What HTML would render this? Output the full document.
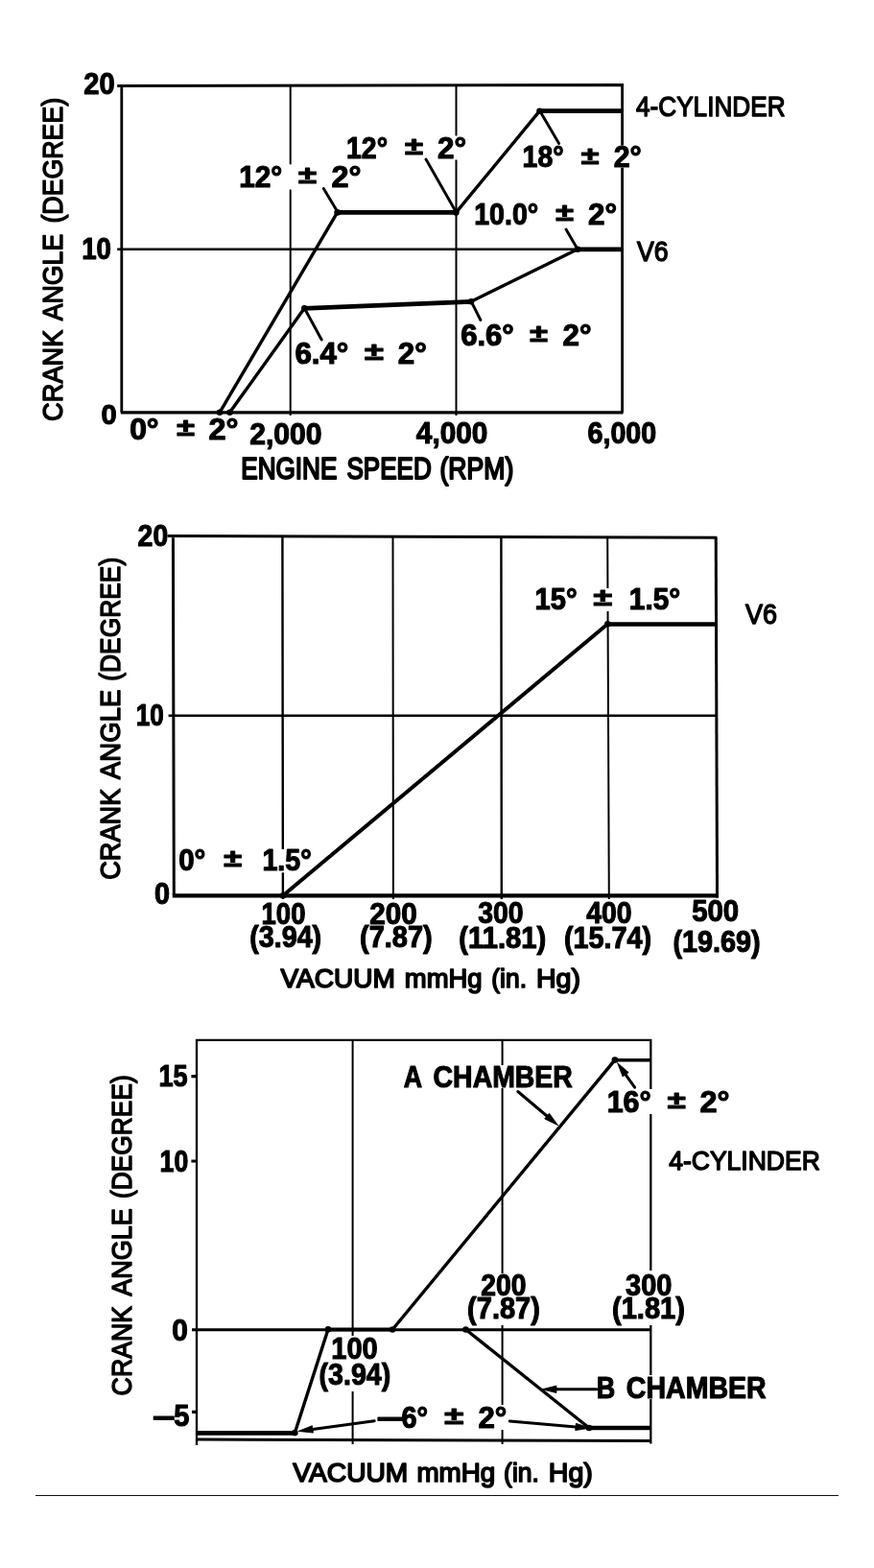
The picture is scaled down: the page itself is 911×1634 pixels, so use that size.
<!DOCTYPE html>
<html lang="en">
<head>
<meta charset="utf-8">
<title>Advance curves</title>
<style>
html,body{margin:0;padding:0;background:#fff;}
body{width:911px;height:1634px;overflow:hidden;}
svg{display:block;}
text{font-family:"Liberation Sans",sans-serif;fill:#000;stroke:#000;stroke-linejoin:round;}
.b{font-weight:bold;font-size:30.5px;stroke-width:1.1px;}
.r{font-weight:normal;font-size:29.5px;stroke-width:1.4px;}
.thin{stroke:#000;stroke-width:2;fill:none;}
.thin3{stroke:#000;stroke-width:2.3;fill:none;}
.axis3{stroke:#000;stroke-width:3;fill:none;}
.box{stroke:#000;stroke-width:2.8;fill:none;stroke-linejoin:miter;}
.crv{stroke:#000;stroke-width:4.7;fill:none;stroke-linejoin:round;stroke-linecap:butt;}
.ld{stroke:#000;stroke-width:2.9;fill:none;stroke-linecap:round;}
.axis1{stroke:#000;stroke-width:3.2;fill:none;}
.axis2{stroke:#000;stroke-width:4.2;fill:none;}
.mid{stroke:#000;stroke-width:2.4;fill:none;}
.box2{stroke:#000;stroke-width:3;fill:none;}
.thin2{stroke:#000;stroke-width:2.4;fill:none;}
.crv2{stroke:#000;stroke-width:4;fill:none;stroke-linecap:butt;}
.crv3{stroke:#000;stroke-width:3.4;fill:none;stroke-linecap:butt;}
.dash{stroke:#000;stroke-width:3.4;fill:none;}
</style>
</head>
<body>
<svg width="911" height="1634" viewBox="0 0 911 1634">
<rect x="0" y="0" width="911" height="1634" fill="#fff"/>
<!-- chart 1 -->
<path class="box" d="M122.2,89.5L648.6,88.5V429.8M126.8,429.8V89.4"/>
<path class="axis1" d="M125.8,429.8H649.5"/>
<path class="thin" d="M302.7,88.6V433M475.5,88.6V433"/>
<path class="mid" d="M122.2,259.7H648.6"/>
<rect x="298.7" y="171.3" width="8" height="26.2" fill="#fff"/>
<rect x="471.5" y="141.5" width="8" height="25" fill="#fff"/>
<rect x="644.6" y="151.5" width="8" height="23.2" fill="#fff"/>
<path class="crv3" d="M229,429.8L351.6,221.4M475.4,221.4L562.5,115.7"/>
<path class="crv" d="M351.6,221.4H475.4M562.5,115.7H648.6"/>
<path class="crv3" d="M239.5,429.8L317.3,321.3M491,314.3L602,259.8"/>
<path class="crv" d="M317.3,321.3L491,314.3M602,259.8H648.6"/>
<circle cx="229" cy="429.8" r="3.3" fill="#000"/>
<circle cx="239.5" cy="429.8" r="3.3" fill="#000"/>
<circle cx="351.6" cy="221.4" r="3.3" fill="#000"/>
<circle cx="475.4" cy="221.4" r="3.3" fill="#000"/>
<circle cx="562.5" cy="115.7" r="3.3" fill="#000"/>
<circle cx="317.3" cy="321.3" r="3.3" fill="#000"/>
<circle cx="491" cy="314.3" r="3.3" fill="#000"/>
<circle cx="602" cy="259.8" r="3.3" fill="#000"/>
<path class="ld" d="M352,221L337.3,196.5M475.4,221L444,166M562.5,115.3L582.6,149.6M602,259.6L590,238.9M317.5,321.5L335.2,354M491.3,314.3L500.9,333.5"/>
<text class="b" x="87.2" y="97.6" style="font-size:30.5px;" textLength="32.4" lengthAdjust="spacingAndGlyphs">20</text>
<text class="b" x="85.2" y="269.6" style="font-size:30.5px;" textLength="30.8" lengthAdjust="spacingAndGlyphs">10</text>
<text class="b" x="105.4" y="441.8" style="font-size:30px;" textLength="16.2" lengthAdjust="spacingAndGlyphs">0</text>
<text class="b" x="249.2" y="194.7" textLength="45.0" lengthAdjust="spacingAndGlyphs">12°</text>
<text class="b" x="311.0" y="191.0" style="font-size:25.0px;" textLength="19.0" lengthAdjust="spacingAndGlyphs">±</text>
<text class="b" x="345.5" y="194.7" textLength="31.0" lengthAdjust="spacingAndGlyphs">2°</text>
<text class="b" x="361.0" y="165.0" textLength="43.0" lengthAdjust="spacingAndGlyphs">12°</text>
<text class="b" x="422.0" y="161.3" style="font-size:25.0px;" textLength="19.0" lengthAdjust="spacingAndGlyphs">±</text>
<text class="b" x="456.0" y="165.0" textLength="30.0" lengthAdjust="spacingAndGlyphs">2°</text>
<text class="b" x="544.6" y="174.2" textLength="43.0" lengthAdjust="spacingAndGlyphs">18°</text>
<text class="b" x="605.8" y="170.5" style="font-size:25.0px;" textLength="18.6" lengthAdjust="spacingAndGlyphs">±</text>
<text class="b" x="639.7" y="174.2" textLength="29.0" lengthAdjust="spacingAndGlyphs">2°</text>
<text class="b" x="494.2" y="233.7" textLength="67.0" lengthAdjust="spacingAndGlyphs">10.0°</text>
<text class="b" x="579.2" y="230.0" style="font-size:25.0px;" textLength="18.6" lengthAdjust="spacingAndGlyphs">±</text>
<text class="b" x="613.0" y="233.7" textLength="30.0" lengthAdjust="spacingAndGlyphs">2°</text>
<text class="b" x="307.4" y="378.5" textLength="56.0" lengthAdjust="spacingAndGlyphs">6.4°</text>
<text class="b" x="380.0" y="374.8" style="font-size:25.0px;" textLength="19.8" lengthAdjust="spacingAndGlyphs">±</text>
<text class="b" x="414.8" y="378.5" textLength="30.0" lengthAdjust="spacingAndGlyphs">2°</text>
<text class="b" x="480.2" y="359.6" textLength="55.6" lengthAdjust="spacingAndGlyphs">6.6°</text>
<text class="b" x="552.2" y="355.9" style="font-size:25.0px;" textLength="18.6" lengthAdjust="spacingAndGlyphs">±</text>
<text class="b" x="586.5" y="359.6" textLength="30.0" lengthAdjust="spacingAndGlyphs">2°</text>
<text class="b" x="135.2" y="457.5" textLength="30.4" lengthAdjust="spacingAndGlyphs">0°</text>
<text class="b" x="184.2" y="453.8" style="font-size:25.0px;" textLength="18.6" lengthAdjust="spacingAndGlyphs">±</text>
<text class="b" x="217.6" y="457.5" textLength="31.0" lengthAdjust="spacingAndGlyphs">2°</text>
<text class="b" x="260.2" y="462.5" textLength="75.4" lengthAdjust="spacingAndGlyphs">2,000</text>
<text class="b" x="433.8" y="462.2" textLength="74.6" lengthAdjust="spacingAndGlyphs">4,000</text>
<text class="b" x="612.6" y="462.2" textLength="71.6" lengthAdjust="spacingAndGlyphs">6,000</text>
<text class="r" x="663.0" y="120.9" textLength="155.6" lengthAdjust="spacingAndGlyphs">4-CYLINDER</text>
<text class="r" x="664.1" y="271.5" textLength="32.6" lengthAdjust="spacingAndGlyphs">V6</text>
<text class="r" x="251.3" y="498.8" style="font-size:30.5px;stroke-width:2.0px;" textLength="100.0" lengthAdjust="spacingAndGlyphs">ENGINE</text>
<text class="r" x="361.4" y="498.8" style="font-size:30.5px;stroke-width:2.0px;" textLength="88.3" lengthAdjust="spacingAndGlyphs">SPEED</text>
<text class="r" x="458.4" y="498.8" style="font-size:30.5px;stroke-width:2.0px;" textLength="76.9" lengthAdjust="spacingAndGlyphs">(RPM)</text>
<text class="r" transform="translate(65.2,438.9) rotate(-90)" textLength="95.2" lengthAdjust="spacingAndGlyphs">CRANK</text>
<text class="r" transform="translate(65.2,334.2) rotate(-90)" textLength="90.4" lengthAdjust="spacingAndGlyphs">ANGLE</text>
<text class="r" transform="translate(65.2,232.6) rotate(-90)" textLength="130.8" lengthAdjust="spacingAndGlyphs">(DEGREE)</text>
<!-- chart 2 -->
<path class="box2" d="M174.8,558.6L747.4,560.2M181.3,933.3L180.4,559"/>
<path class="box2" d="M746.2,560.2L747.5,935.4"/>
<path class="axis2" d="M179.8,933.4H748.7"/>
<path class="thin2" d="M294.4,559.3L294.9,937M522.4,559.3L522.8,937"/>
<path class="thin" d="M409.5,559.3L409.9,937M633.2,559.3L634.8,937"/>
<path class="thin2" d="M175.6,745.8H747.4"/>
<rect x="629.5" y="613" width="9" height="24" fill="#fff"/>
<rect x="290.5" y="885" width="8" height="24.3" fill="#fff"/>
<path class="crv2" d="M295,933.3L633.4,650.2"/>
<path class="crv" d="M633.4,650.5H746.8"/>
<circle cx="295" cy="933.3" r="3.3" fill="#000"/>
<circle cx="633.4" cy="650.2" r="3.3" fill="#000"/>
<text class="b" x="143.6" y="569.3" style="font-size:30.5px;" textLength="31.6" lengthAdjust="spacingAndGlyphs">20</text>
<text class="b" x="141.8" y="755.6" style="font-size:30.5px;" textLength="29.0" lengthAdjust="spacingAndGlyphs">10</text>
<text class="b" x="160.9" y="941.7" textLength="16.0" lengthAdjust="spacingAndGlyphs">0</text>
<text class="b" x="557.6" y="634.6" textLength="44.0" lengthAdjust="spacingAndGlyphs">15°</text>
<text class="b" x="618.6" y="630.9" style="font-size:25.0px;" textLength="19.6" lengthAdjust="spacingAndGlyphs">±</text>
<text class="b" x="655.8" y="634.6" textLength="53.4" lengthAdjust="spacingAndGlyphs">1.5°</text>
<text class="b" x="186.2" y="907.0" textLength="28.2" lengthAdjust="spacingAndGlyphs">0°</text>
<text class="b" x="233.2" y="903.3" style="font-size:25.0px;" textLength="18.8" lengthAdjust="spacingAndGlyphs">±</text>
<text class="b" x="273.4" y="907.0" textLength="51.4" lengthAdjust="spacingAndGlyphs">1.5°</text>
<text class="r" x="777.1" y="649.5" textLength="33.0" lengthAdjust="spacingAndGlyphs">V6</text>
<text class="b" x="272.6" y="962.8" textLength="45.8" lengthAdjust="spacingAndGlyphs">100</text>
<text class="b" x="385.3" y="962.5" textLength="49.5" lengthAdjust="spacingAndGlyphs">200</text>
<text class="b" x="498.3" y="961.8" textLength="47.3" lengthAdjust="spacingAndGlyphs">300</text>
<text class="b" x="611.3" y="961.8" textLength="47.3" lengthAdjust="spacingAndGlyphs">400</text>
<text class="b" x="721.2" y="960.4" textLength="49.0" lengthAdjust="spacingAndGlyphs">500</text>
<text class="b" x="260.2" y="987.3" textLength="75.0" lengthAdjust="spacingAndGlyphs">(3.94)</text>
<text class="b" x="375.0" y="987.3" textLength="75.7" lengthAdjust="spacingAndGlyphs">(7.87)</text>
<text class="b" x="478.3" y="988.3" textLength="91.0" lengthAdjust="spacingAndGlyphs">(11.81)</text>
<text class="b" x="587.9" y="988.3" textLength="91.2" lengthAdjust="spacingAndGlyphs">(15.74)</text>
<text class="b" x="701.4" y="991.6" textLength="91.2" lengthAdjust="spacingAndGlyphs">(19.69)</text>
<text class="r" x="292.5" y="1029.4" style="font-size:28px;stroke-width:1.7px;" textLength="119.4" lengthAdjust="spacingAndGlyphs">VACUUM</text>
<text class="r" x="421.8" y="1029.4" style="font-size:28px;stroke-width:1.7px;" textLength="80.8" lengthAdjust="spacingAndGlyphs">mmHg</text>
<text class="r" x="512.3" y="1029.4" style="font-size:28px;stroke-width:1.7px;" textLength="36.7" lengthAdjust="spacingAndGlyphs">(in.</text>
<text class="r" x="559.0" y="1029.4" style="font-size:28px;stroke-width:1.7px;" textLength="46.0" lengthAdjust="spacingAndGlyphs">Hg)</text>
<text class="r" transform="translate(124.5,916.8) rotate(-90)" textLength="95.2" lengthAdjust="spacingAndGlyphs">CRANK</text>
<text class="r" transform="translate(124.5,812.2) rotate(-90)" textLength="93.7" lengthAdjust="spacingAndGlyphs">ANGLE</text>
<text class="r" transform="translate(124.5,709.7) rotate(-90)" textLength="128.9" lengthAdjust="spacingAndGlyphs">(DEGREE)</text>
<!-- chart 3 -->
<path class="thin3" d="M205,1506V1083.8H678.3V1504.5"/>
<path class="thin" d="M367.6,1083.8V1505M523.6,1083.8V1505"/>
<path class="axis3" d="M200,1385.7H678.3"/>
<path class="axis3" d="M204.7,1500.1L678.3,1501.5"/>
<path class="axis1" d="M199.4,1121.7H205M199.4,1210H205M200,1471.4H205"/>
<rect x="630" y="1135" width="52" height="26" fill="#fff"/>
<rect x="673" y="1433" width="11" height="25" fill="#fff"/>
<rect x="518" y="1110" width="11" height="24" fill="#fff"/>
<rect x="486" y="1327" width="78" height="54" fill="#fff"/>
<rect x="637" y="1324" width="78" height="57" fill="#fff"/>
<rect x="331" y="1392" width="66" height="58" fill="#fff"/>
<rect x="392" y="1464" width="138" height="26" fill="#fff"/>
<path class="crv3" d="M307.4,1493.1L342,1385.2M409.1,1385.5L640.9,1104.6"/>
<path class="crv" d="M204.7,1493.4H307.4"/>
<path class="crv2" d="M342,1385.4H409.1"/>
<path class="crv3" d="M640.9,1104.8H678.3"/>
<circle cx="307.4" cy="1493.1" r="3.3" fill="#000"/>
<circle cx="342" cy="1385.2" r="3.3" fill="#000"/>
<circle cx="409.1" cy="1385.5" r="3.3" fill="#000"/>
<circle cx="640.9" cy="1104.6" r="3.3" fill="#000"/>
<circle cx="485.5" cy="1385.5" r="3.3" fill="#000"/>
<circle cx="614" cy="1488" r="3.3" fill="#000"/>
<path class="crv3" d="M485.5,1385.5L614,1488"/>
<path class="crv" d="M614,1488H678.3"/>
<path class="ld" style="stroke-width:3.0" d="M539.8,1137.5L570.1,1163.0"/>
<path d="M581.6,1172.7L567.7,1165.9L572.5,1160.2Z" fill="#000" stroke="#000" stroke-width="0.8" stroke-linejoin="round"/>
<path class="ld" style="stroke-width:3.0" d="M661.6,1133.2L652.1,1119.8"/>
<path d="M643.5,1107.5L655.2,1117.6L649.1,1121.9Z" fill="#000" stroke="#000" stroke-width="0.8" stroke-linejoin="round"/>
<path class="ld" style="stroke-width:3.0" d="M622.0,1447.8L580.0,1447.8"/>
<path d="M565.0,1447.8L580.0,1444.1L580.0,1451.5Z" fill="#000" stroke="#000" stroke-width="0.8" stroke-linejoin="round"/>
<path class="ld" style="stroke-width:3.0" d="M531.3,1481.0L600.1,1486.9"/>
<path d="M615.0,1488.2L599.7,1490.6L600.4,1483.2Z" fill="#000" stroke="#000" stroke-width="0.8" stroke-linejoin="round"/>
<path class="ld" style="stroke-width:3.0" d="M390.2,1480.8L325.9,1489.4"/>
<path d="M311.0,1491.4L325.4,1485.7L326.4,1493.1Z" fill="#000" stroke="#000" stroke-width="0.8" stroke-linejoin="round"/>
<text class="b" x="165.4" y="1131.6" textLength="30.2" lengthAdjust="spacingAndGlyphs">15</text>
<text class="b" x="166.6" y="1221.0" textLength="29.6" lengthAdjust="spacingAndGlyphs">10</text>
<text class="b" x="179.3" y="1397.2" textLength="16.6" lengthAdjust="spacingAndGlyphs">0</text>
<text class="b" x="159.0" y="1487.6" textLength="24.0" lengthAdjust="spacingAndGlyphs">−</text>
<text class="b" x="181.2" y="1486.3" textLength="16.2" lengthAdjust="spacingAndGlyphs">5</text>
<text class="b" x="420.8" y="1132.5" textLength="19.3" lengthAdjust="spacingAndGlyphs">A</text>
<text class="b" x="451.6" y="1132.5" textLength="145.2" lengthAdjust="spacingAndGlyphs">CHAMBER</text>
<text class="b" x="632.7" y="1159.0" textLength="46.0" lengthAdjust="spacingAndGlyphs">16°</text>
<text class="b" x="695.8" y="1155.3" style="font-size:25.0px;" textLength="19.0" lengthAdjust="spacingAndGlyphs">±</text>
<text class="b" x="729.5" y="1159.0" textLength="31.0" lengthAdjust="spacingAndGlyphs">2°</text>
<text class="r" x="697.2" y="1219.0" style="font-size:27.5px;" textLength="157.6" lengthAdjust="spacingAndGlyphs">4-CYLINDER</text>
<text class="b" x="501.2" y="1350.2" textLength="47.2" lengthAdjust="spacingAndGlyphs">200</text>
<text class="b" x="487.1" y="1374.2" textLength="75.8" lengthAdjust="spacingAndGlyphs">(7.87)</text>
<text class="b" x="652.1" y="1350.2" textLength="48.3" lengthAdjust="spacingAndGlyphs">300</text>
<text class="b" x="638.0" y="1374.2" textLength="76.0" lengthAdjust="spacingAndGlyphs">(1.81)</text>
<text class="b" x="345.3" y="1416.4" textLength="48.4" lengthAdjust="spacingAndGlyphs">100</text>
<text class="b" x="332.6" y="1443.2" textLength="74.6" lengthAdjust="spacingAndGlyphs">(3.94)</text>
<text class="b" x="621.8" y="1456.5" textLength="19.5" lengthAdjust="spacingAndGlyphs">B</text>
<text class="b" x="652.8" y="1456.5" textLength="145.9" lengthAdjust="spacingAndGlyphs">CHAMBER</text>
<text class="b" x="392.4" y="1489.4" textLength="29.0" lengthAdjust="spacingAndGlyphs">−</text>
<text class="b" x="418.6" y="1487.5" textLength="27.5" lengthAdjust="spacingAndGlyphs">6°</text>
<text class="b" x="463.3" y="1483.8" style="font-size:25.0px;" textLength="20.0" lengthAdjust="spacingAndGlyphs">±</text>
<text class="b" x="498.4" y="1487.5" textLength="29.8" lengthAdjust="spacingAndGlyphs">2°</text>
<text class="r" x="305.3" y="1544.0" style="font-size:28.3px;stroke-width:1.7px;" textLength="120.0" lengthAdjust="spacingAndGlyphs">VACUUM</text>
<text class="r" x="434.4" y="1544.0" style="font-size:28.3px;stroke-width:1.7px;" textLength="81.9" lengthAdjust="spacingAndGlyphs">mmHg</text>
<text class="r" x="525.1" y="1544.0" style="font-size:28.3px;stroke-width:1.7px;" textLength="36.7" lengthAdjust="spacingAndGlyphs">(in.</text>
<text class="r" x="571.8" y="1544.0" style="font-size:28.3px;stroke-width:1.7px;" textLength="46.1" lengthAdjust="spacingAndGlyphs">Hg)</text>
<text class="r" transform="translate(136.6,1454.4) rotate(-90)" textLength="93.6" lengthAdjust="spacingAndGlyphs">CRANK</text>
<text class="r" transform="translate(136.6,1350.7) rotate(-90)" textLength="91.5" lengthAdjust="spacingAndGlyphs">ANGLE</text>
<text class="r" transform="translate(136.6,1249.1) rotate(-90)" textLength="128.9" lengthAdjust="spacingAndGlyphs">(DEGREE)</text>
<rect x="37" y="1558" width="837" height="1.2" fill="#111" shape-rendering="crispEdges"/>
</svg>
</body>
</html>
